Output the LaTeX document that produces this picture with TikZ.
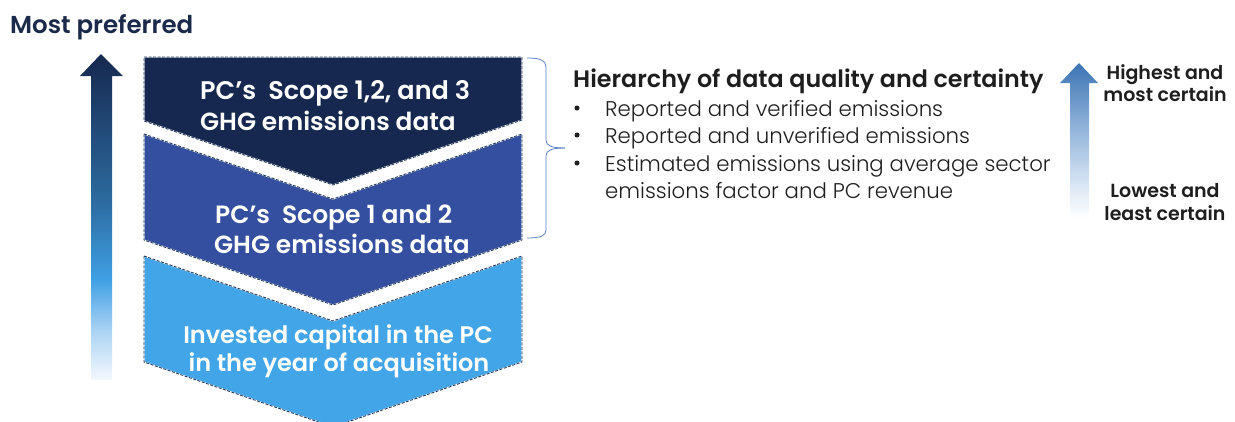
\documentclass[tikz,border=0pt]{standalone}
\usepackage{fontspec}
\setmainfont{Poppins}[BoldFont={Poppins SemiBold}]
\newfontfamily\lightfont{Poppins Light}
\definecolor{navy}{HTML}{16284F}
\definecolor{midblue}{HTML}{344F9F}
\definecolor{skyblue}{HTML}{42A5E8}
\definecolor{titlenavy}{HTML}{1B2A4A}
\definecolor{txtdark}{HTML}{1E1E1E}
\definecolor{bracketblue}{HTML}{5B7FC7}
\definecolor{edgedark}{HTML}{243B5E}
\definecolor{lsA}{HTML}{F4F9FE}
\definecolor{lsB}{HTML}{A9D2F3}
\definecolor{lsC}{HTML}{3FA0E5}
\definecolor{lsD}{HTML}{2C6A9E}
\definecolor{lsE}{HTML}{16284F}
\definecolor{rsA}{HTML}{FFFFFF}
\definecolor{rsB}{HTML}{DCE8F5}
\definecolor{rsC}{HTML}{8EB1D9}
\definecolor{rsD}{HTML}{3C74B3}
\pgfdeclareverticalshading{leftgrad}{100bp}{color(0bp)=(lsA); color(25bp)=(lsA); color(32.7bp)=(lsB); color(40.4bp)=(lsC); color(52.7bp)=(lsD); color(75bp)=(lsE); color(100bp)=(lsE)}
\pgfdeclareverticalshading{rightgrad}{100bp}{color(0bp)=(rsA); color(25bp)=(rsA); color(35bp)=(rsB); color(55bp)=(rsC); color(75bp)=(rsD); color(100bp)=(rsD)}
\tikzset{
  chevedge/.style={draw=white, line width=1.2pt},
  chevdash/.style={draw=edgedark, line width=0.9pt, dash pattern=on 3pt off 1.5pt},
  chevtext/.style={text=white, font=\bfseries\fontsize{24}{28}\selectfont, inner sep=0pt},
  bodytext/.style={text=txtdark, font=\lightfont\fontsize{21.3}{27}\selectfont, inner sep=0pt},
  bulletdot/.style={circle, fill=txtdark, inner sep=0pt, minimum size=5pt},
  sidetext/.style={text=txtdark, font=\bfseries\fontsize{19}{22}\selectfont, inner sep=0pt},
  bracket/.style={draw=bracketblue, line width=0.8pt}
}
\begin{document}
\begin{tikzpicture}[x=1pt, y=-1pt]
\useasboundingbox (0,0) rectangle (1235,421);
\begin{scope}
\clip (0,0) rectangle (1235,421);
% chevrons
\fill[skyblue] (144,256) -- (333,321) -- (522,256) -- (522,362) -- (333,427) -- (144,362) -- cycle;
\draw[chevedge] (144,256) -- (333,321) -- (522,256) -- (522,362) -- (333,427) -- (144,362) -- cycle;
\draw[chevdash] (144,256) -- (333,321) -- (522,256) -- (522,362) -- (333,427) -- (144,362) -- cycle;
\fill[midblue] (144,134) -- (333,199) -- (522,134) -- (522,240) -- (333,305) -- (144,240) -- cycle;
\draw[chevedge] (144,134) -- (333,199) -- (522,134) -- (522,240) -- (333,305) -- (144,240) -- cycle;
\draw[chevdash] (144,134) -- (333,199) -- (522,134) -- (522,240) -- (333,305) -- (144,240) -- cycle;
\fill[navy] (144,57) -- (522,57) -- (522,120) -- (333,185) -- (144,121) -- cycle;
\draw[chevedge] (144,57) -- (522,57) -- (522,120) -- (333,185) -- (144,121) -- cycle;
\draw[chevdash] (144,57) -- (522,57) -- (522,120) -- (333,185) -- (144,121) -- cycle;
\end{scope}
% chevron texts
\node[chevtext, anchor=base west, font=\bfseries\fontsize{25.5}{28}\selectfont] (c1a) at (200,99) {PC’s\ \ Scope 1,2, and 3};
\node[chevtext, anchor=base west, font=\bfseries\fontsize{24.8}{28}\selectfont] (c1b) at (200,130) {GHG emissions data};
\node[chevtext, anchor=base west, font=\bfseries\fontsize{25}{28}\selectfont] (c2a) at (215,223) {PC’s\ \ Scope 1 and 2};
\node[chevtext, anchor=base west, font=\bfseries\fontsize{24.8}{28}\selectfont] (c2b) at (214,253) {GHG emissions data};
\node[chevtext, anchor=base] (c3a) at (338,343) {Invested capital in the PC};
\node[chevtext, anchor=base] (c3b) at (339,371) {in the year of acquisition};
% left arrow
\shade[shading=leftgrad] (91,380) -- (91,76) -- (80,76) -- (101,54) -- (123,76) -- (112,76) -- (112,380) -- cycle;
\node[text=titlenavy, font=\bfseries\fontsize{24.5}{27}\selectfont, inner sep=0pt, anchor=base west] (most) at (10,33) {Most preferred};
% bracket
\draw[bracket] (527,58) .. controls (540,58) and (546,60) .. (546,68) -- (546,140) .. controls (546,146) and (552,148) .. (565,148);
\draw[bracket] (565,148) .. controls (552,148) and (546,150) .. (546,156) -- (546,230) .. controls (546,236) and (540,238) .. (527,238);
% hierarchy text
\node[text=txtdark, font=\bfseries\fontsize{23.8}{28}\selectfont, inner sep=0pt, anchor=base west] (head) at (573,87) {Hierarchy of data quality and certainty};
\node[bulletdot] (b1) at (577,108) {};
\node[bodytext, anchor=base west] (l1) at (605,116) {Reported and verified emissions};
\node[bulletdot] (b2) at (577,135) {};
\node[bodytext, anchor=base west] (l2) at (605,143) {Reported and unverified emissions};
\node[bulletdot] (b3) at (577,163) {};
\node[bodytext, anchor=base west] (l3) at (605,171) {Estimated emissions using average sector};
\node[bodytext, anchor=base west] (l4) at (605,198) {emissions factor and PC revenue};
% right arrow
\shade[shading=rightgrad] (1070,218) -- (1070,83) -- (1060,83) -- (1079,63) -- (1098,83) -- (1089,83) -- (1089,218) -- cycle;
\node[sidetext, anchor=base] (hi1) at (1165,79) {Highest and};
\node[sidetext, anchor=base] (hi2) at (1165,101) {most certain};
\node[sidetext, anchor=base] (lo1) at (1165,197) {Lowest and};
\node[sidetext, anchor=base] (lo2) at (1165,220) {least certain};
\end{tikzpicture}
\end{document}
